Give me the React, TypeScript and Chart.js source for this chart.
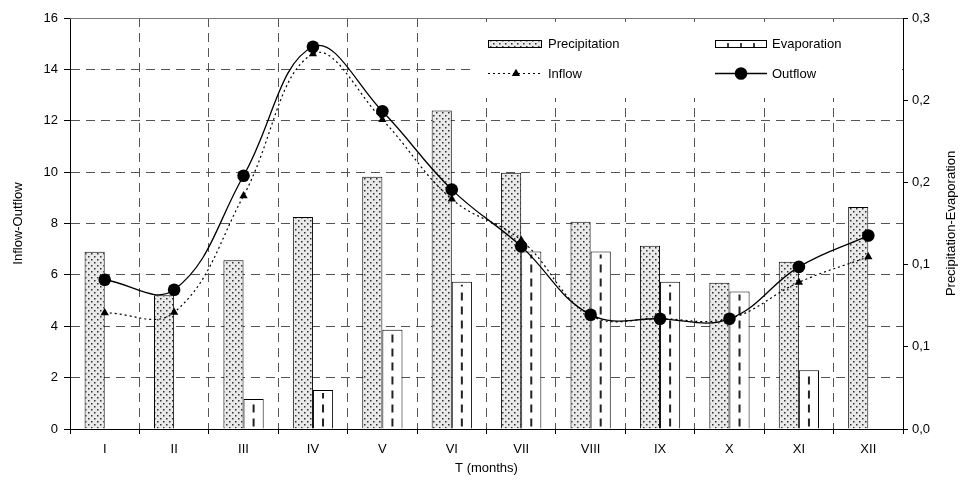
import React, { useEffect, useRef } from "react";
import { Chart, registerables } from "chart.js";

Chart.register(...registerables);

const months = ["I", "II", "III", "IV", "V", "VI", "VII", "VIII", "IX", "X", "XI", "XII"];
const precipitation = [0.1078, 0.0813, 0.1026, 0.129, 0.1535, 0.1937, 0.1558, 0.1261, 0.1115, 0.0889, 0.1018, 0.135];
const evaporation = [null, null, 0.0183, 0.0237, 0.0604, 0.0896, 0.1079, 0.1079, 0.0896, 0.0836, 0.0357, null];
const inflow = [4.52, 4.54, 9.08, 14.6, 12.04, 8.95, 7.35, 4.42, 4.3, 4.3, 5.71, 6.7];
const outflow = [5.81, 5.42, 9.86, 14.88, 12.37, 9.32, 7.11, 4.45, 4.29, 4.29, 6.31, 7.53];
const rightTickLabels = ["0,0", "0,1", "0,1", "0,2", "0,2", "0,3"];

const FONT = "'Liberation Sans', Arial, sans-serif";

function makeDotPattern(): CanvasPattern | string {
  const c = document.createElement("canvas");
  c.width = 6;
  c.height = 6;
  const g = c.getContext("2d");
  if (!g) return "#ddd";
  g.fillStyle = "#e9e9e9";
  g.fillRect(0, 0, 6, 6);
  g.fillStyle = "#2e2e2e";
  g.fillRect(1, 1, 1.5, 1.5);
  g.fillRect(4, 4, 1.5, 1.5);
  const p = g.createPattern(c, "repeat");
  return p || "#ddd";
}

function drawTriangle(ctx: CanvasRenderingContext2D, x: number, y: number, r: number) {
  ctx.beginPath();
  for (let k = 0; k < 3; k++) {
    const a = -Math.PI / 2 + (k * 2 * Math.PI) / 3;
    const px = x + Math.cos(a) * r;
    const py = y + Math.sin(a) * r;
    if (k === 0) ctx.moveTo(px, py);
    else ctx.lineTo(px, py);
  }
  ctx.closePath();
  ctx.fill();
}

export default function App() {
  const ref = useRef<HTMLCanvasElement | null>(null);

  useEffect(() => {
    const canvas = ref.current;
    if (!canvas) return;
    const dotPattern = makeDotPattern();

    const decor = {
      id: "decor",
      beforeDatasetsDraw(chart: any) {
        const ctx = chart.ctx as CanvasRenderingContext2D;
        ctx.save();
        ctx.fillStyle = "#ffffff";
        ctx.fillRect(474, 22, 428, 76);
        ctx.restore();
      },
      afterDatasetDraw(chart: any, args: any) {
        if (args.index !== 1) return;
        const ctx = chart.ctx as CanvasRenderingContext2D;
        const meta = chart.getDatasetMeta(1);
        ctx.save();
        ctx.strokeStyle = "#222";
        ctx.lineWidth = 2;
        ctx.setLineDash([8, 6]);
        meta.data.forEach((el: any, i: number) => {
          if (evaporation[i] == null) return;
          ctx.beginPath();
          ctx.moveTo(el.x, el.base - 2);
          ctx.lineTo(el.x, el.y + 3);
          ctx.stroke();
        });
        ctx.restore();
      },
      afterDraw(chart: any) {
        const ctx = chart.ctx as CanvasRenderingContext2D;
        const a = chart.chartArea;
        ctx.save();
        ctx.strokeStyle = "#777";
        ctx.lineWidth = 1;
        ctx.beginPath();
        ctx.moveTo(a.left, Math.round(a.top) + 0.5);
        ctx.lineTo(a.right, Math.round(a.top) + 0.5);
        ctx.stroke();

        ctx.fillStyle = "#000";
        ctx.font = `13px ${FONT}`;
        ctx.textBaseline = "middle";
        ctx.textAlign = "center";
        const midY = (a.top + a.bottom) / 2;
        ctx.save();
        ctx.translate(18, midY);
        ctx.rotate(-Math.PI / 2);
        ctx.fillText("Inflow-Outflow", 0, 0);
        ctx.restore();
        ctx.save();
        ctx.translate(951, midY);
        ctx.rotate(-Math.PI / 2);
        ctx.fillText("Precipitation-Evaporation", 0, 0);
        ctx.restore();
        ctx.fillText("T (months)", (a.left + a.right) / 2, 468);

        // legend
        ctx.textAlign = "left";
        ctx.fillStyle = dotPattern as any;
        ctx.fillRect(488, 40, 54, 7);
        ctx.strokeStyle = "#000";
        ctx.lineWidth = 1;
        ctx.strokeRect(488.5, 40.5, 53, 7);
        ctx.fillStyle = "#000";
        ctx.fillText("Precipitation", 548, 44);

        ctx.fillStyle = "#fff";
        ctx.fillRect(715, 40, 52, 7);
        ctx.strokeRect(715.5, 40.5, 51, 7);
        ctx.lineWidth = 1.5;
        [728, 741, 754].forEach((x) => {
          ctx.beginPath();
          ctx.moveTo(x, 43);
          ctx.lineTo(x, 47);
          ctx.stroke();
        });
        ctx.fillStyle = "#000";
        ctx.fillText("Evaporation", 772, 44);

        ctx.lineWidth = 1.2;
        ctx.setLineDash([2, 3]);
        ctx.beginPath();
        ctx.moveTo(488, 73.5);
        ctx.lineTo(542, 73.5);
        ctx.stroke();
        ctx.setLineDash([]);
        drawTriangle(ctx, 516, 73.5, 4.8);
        ctx.fillText("Inflow", 548, 74);

        ctx.lineWidth = 1.3;
        ctx.beginPath();
        ctx.moveTo(715, 73.5);
        ctx.lineTo(767, 73.5);
        ctx.stroke();
        ctx.beginPath();
        ctx.arc(741, 73.5, 6.3, 0, Math.PI * 2);
        ctx.fill();
        ctx.fillText("Outflow", 772, 74);
        ctx.restore();
      },
    };

    const chart = new Chart(canvas, {
      type: "bar",
      data: {
        labels: months,
        datasets: [
          {
            type: "bar",
            label: "Precipitation",
            data: precipitation,
            yAxisID: "y1",
            backgroundColor: dotPattern as any,
            borderColor: "#000",
            borderWidth: 1,
            categoryPercentage: 0.58,
            barPercentage: 1.0,
            order: 2,
          },
          {
            type: "bar",
            label: "Evaporation",
            data: evaporation,
            yAxisID: "y1",
            backgroundColor: "#ffffff",
            borderColor: "#000",
            borderWidth: 1,
            categoryPercentage: 0.58,
            barPercentage: 1.0,
            order: 3,
          },
          {
            type: "line",
            label: "Inflow",
            data: inflow,
            yAxisID: "y",
            borderColor: "#000",
            backgroundColor: "#000",
            borderWidth: 1.2,
            borderDash: [2, 3],
            tension: 0.4,
            pointStyle: "triangle",
            pointRadius: 4.8,
            pointBorderWidth: 0,
            order: 1,
          },
          {
            type: "line",
            label: "Outflow",
            data: outflow,
            yAxisID: "y",
            borderColor: "#000",
            backgroundColor: "#000",
            borderWidth: 1.3,
            tension: 0.4,
            pointStyle: "circle",
            pointRadius: 6.3,
            pointBorderWidth: 0,
            order: 0,
          },
        ] as any,
      },
      options: {
        responsive: false,
        animation: false,
        devicePixelRatio: 1,
        layout: { padding: { top: 18, left: 0, right: 0, bottom: 0 } },
        plugins: {
          legend: { display: false },
          tooltip: { enabled: false },
        },
        scales: {
          x: {
            offset: true,
            afterFit: (s: any) => {
              s.height = 52;
            },
            grid: {
              offset: true,
              color: "#555",
              tickColor: "#000",
              tickLength: 5,
              lineWidth: 1,
            },
            border: { display: true, color: "#000", width: 1, dash: [9, 6] },
            ticks: {
              color: "#000",
              padding: 8,
              maxRotation: 0,
              autoSkip: false,
              font: { family: FONT, size: 13 },
            },
          },
          y: {
            position: "left",
            min: 0,
            max: 16,
            afterFit: (s: any) => {
              s.width = 70;
            },
            grid: {
              color: "#555",
              tickColor: "#000",
              tickLength: 6,
              lineWidth: 1,
            },
            border: { display: true, color: "#000", width: 1, dash: [9, 6] },
            ticks: {
              stepSize: 2,
              color: "#000",
              padding: 6,
              font: { family: FONT, size: 13 },
            },
          },
          y1: {
            position: "right",
            min: 0,
            max: 0.25,
            afterFit: (s: any) => {
              s.width = 59;
            },
            grid: {
              drawOnChartArea: false,
              tickColor: "#000",
              tickLength: 5,
            },
            border: { display: true, color: "#000", width: 1 },
            ticks: {
              stepSize: 0.05,
              color: "#000",
              padding: 4,
              font: { family: FONT, size: 13 },
              callback: (_v: any, i: number) => rightTickLabels[i],
            },
          },
        },
      },
      plugins: [decor],
    });

    return () => {
      chart.destroy();
    };
  }, []);

  return (
    <div style={{ position: "absolute", left: 0, top: 0, width: 962, height: 481, background: "#fff" }}>
      <canvas ref={ref} width={962} height={481} style={{ width: 962, height: 481, display: "block" }} />
    </div>
  );
}
